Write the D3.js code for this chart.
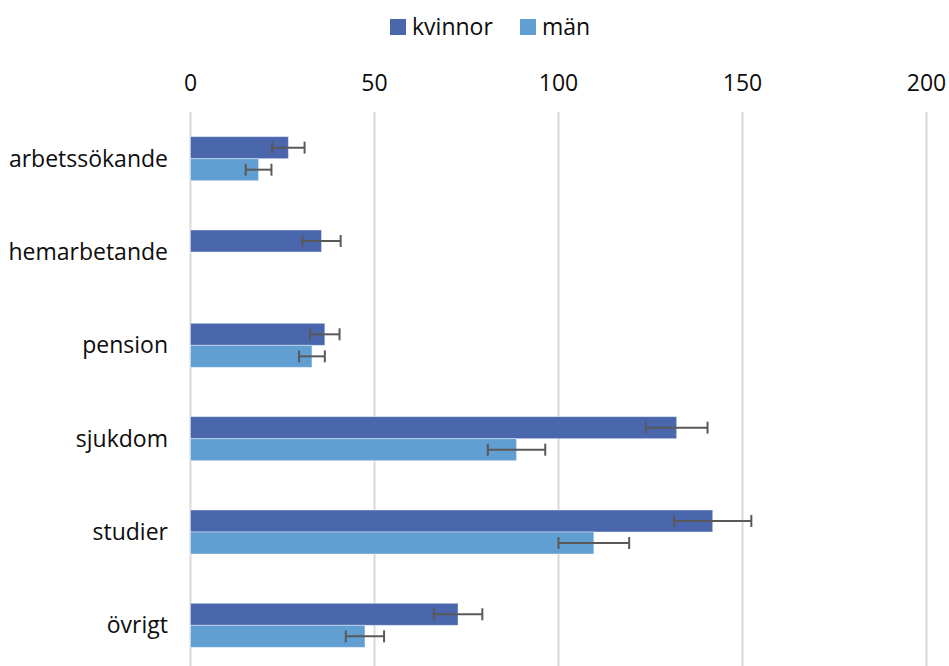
<!DOCTYPE html>
<html>
<head>
<meta charset="utf-8">
<script src="https://cdn.jsdelivr.net/npm/d3@7"></script>
<style>
  body { margin: 0; background: #fff; }
  text { font-family: "Open Sans", sans-serif; fill: #0d0d0d; }
</style>
</head>
<body>
<div id="chart"></div>
<script>
const categories = ["arbetssökande", "hemarbetande", "pension", "sjukdom", "studier", "övrigt"];
const seriesNames = ["kvinnor", "män"];
const kvinnor = [26.6, 35.6, 36.5, 132.1, 141.9, 72.7];
const kvinnorErr = [4.4, 5.2, 4.0, 8.4, 10.5, 6.6];
const man = [18.5, null, 33.0, 88.6, 109.6, 47.4];
const manErr = [3.5, null, 3.5, 7.8, 9.6, 5.2];
const ticks = [0, 50, 100, 150, 200];
const colors = ["#4A66AD", "#619FD3"];

const width = 949, height = 666;
const svg = d3.select("#chart").append("svg")
  .attr("width", width)
  .attr("height", height);

const x = d3.scaleLinear().domain([0, 200]).range([190.5, 926.5]);
const y = d3.scaleBand().domain(categories).range([112, 672]).paddingInner(0.528).paddingOuter(0.264);
const sub = d3.scaleBand().domain(seriesNames).range([0, y.bandwidth()]);

// gridlines
svg.append("g").selectAll("line").data(ticks).join("line")
  .attr("x1", d => x(d)).attr("x2", d => x(d))
  .attr("y1", 112).attr("y2", height)
  .attr("stroke", "#d9d9d9").attr("stroke-width", 2);

// tick labels
svg.append("g").selectAll("text").data(ticks).join("text")
  .attr("x", d => x(d)).attr("y", 91)
  .attr("text-anchor", "middle")
  .attr("font-size", 23)
  .text(d => d);

// category labels
svg.append("g").selectAll("text").data(categories).join("text")
  .attr("x", 168).attr("y", d => y(d) + y.bandwidth() / 2 + 8)
  .attr("text-anchor", "end")
  .attr("font-size", 23)
  .text(d => d);

const series = [
  { name: "kvinnor", vals: kvinnor, errs: kvinnorErr, color: colors[0] },
  { name: "män", vals: man, errs: manErr, color: colors[1] }
];

series.forEach(s => {
  const rows = categories.map((c, i) => ({ c, v: s.vals[i], e: s.errs[i] })).filter(r => r.v != null);
  const g = svg.append("g");
  g.selectAll("rect").data(rows).join("rect")
    .attr("x", x(0))
    .attr("y", r => y(r.c) + sub(s.name))
    .attr("width", r => x(r.v) - x(0))
    .attr("height", sub.bandwidth())
    .attr("fill", s.color)
    .attr("stroke", "#fff").attr("stroke-opacity", 0.4).attr("stroke-width", 1);

  // error bars
  const eg = g.append("g").attr("stroke", "#595959").attr("stroke-width", 2);
  rows.forEach(r => {
    const cy = y(r.c) + sub(s.name) + sub.bandwidth() / 2;
    eg.append("line").attr("x1", x(r.v - r.e)).attr("x2", x(r.v + r.e)).attr("y1", cy).attr("y2", cy);
    eg.append("line").attr("x1", x(r.v - r.e)).attr("x2", x(r.v - r.e)).attr("y1", cy - 6).attr("y2", cy + 6);
    eg.append("line").attr("x1", x(r.v + r.e)).attr("x2", x(r.v + r.e)).attr("y1", cy - 6).attr("y2", cy + 6);
  });
});

// legend
const legend = svg.append("g");
const legendX = [390, 520];
series.forEach((s, i) => {
  legend.append("rect").attr("x", legendX[i]).attr("y", 19).attr("width", 16).attr("height", 16).attr("fill", s.color);
  legend.append("text").attr("x", legendX[i] + 22).attr("y", 35).attr("font-size", 23).text(s.name);
});
</script>
</body>
</html>
